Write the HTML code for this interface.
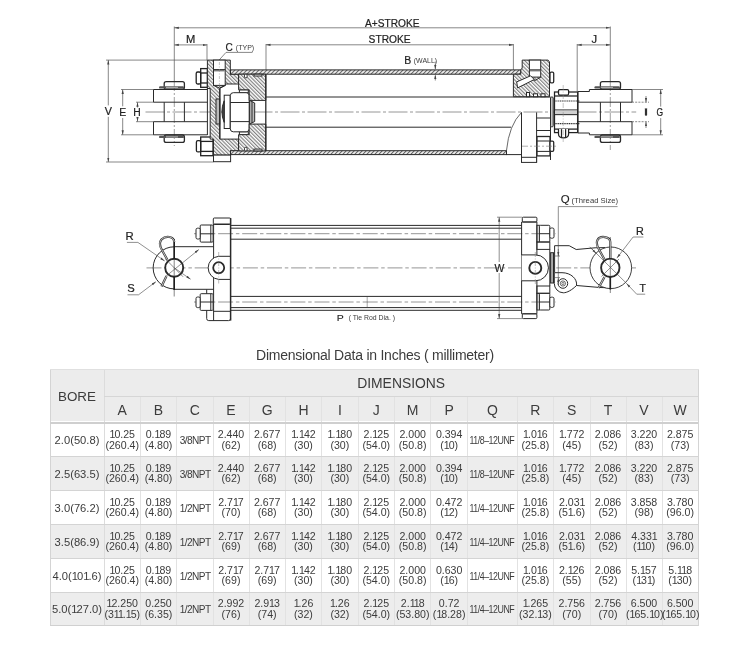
<!DOCTYPE html>
<html><head><meta charset="utf-8"><title>Dimensional Data</title>
<style>
html,body{margin:0;padding:0;background:#fff;}
body{width:750px;height:648px;position:relative;overflow:hidden;filter:grayscale(1);font-family:"Liberation Sans",sans-serif;color:#3c3c3c;}
.bg,.ln{position:absolute;}
.th,.td,.bore,.npt,.unf,.title{position:absolute;text-align:center;transform:translateY(-50%);white-space:nowrap;}
.th{font-size:13.4px;line-height:14px;}
.lt{position:absolute;text-align:center;transform:translateY(-50%);white-space:nowrap;font-size:14px;line-height:14px;}
.td{font-size:10.6px;line-height:10.6px;letter-spacing:0px;}
.o{letter-spacing:-1px;}
.dim{position:absolute;text-align:center;transform:translateY(-50%);white-space:nowrap;font-size:13.9px;line-height:14px;}
.bore{font-size:11.2px;line-height:12px;letter-spacing:0px;}
.npt{font-size:11.2px;line-height:12px;letter-spacing:-0.6px;}
.sx{display:inline-block;transform:scaleX(0.9);}
.unf{font-size:10.7px;line-height:12px;letter-spacing:-0.6px;}
.unf .sx{transform:scaleX(0.83);position:relative;left:-2.6px;}
.title{font-size:14px;line-height:16px;letter-spacing:-0.24px;}
svg{position:absolute;left:0;top:0;}
</style></head><body>
<svg width="750" height="340" viewBox="0 0 750 340" font-family="Liberation Sans, sans-serif" fill="#2a2a2a">
<defs>
<pattern id="hb" width="2.6" height="2.6" patternUnits="userSpaceOnUse" patternTransform="rotate(-45)"><rect width="2.6" height="2.6" fill="#fff"/><line x1="0.6" y1="0" x2="0.6" y2="2.6" stroke="#7a7a7a" stroke-width="1.1"/></pattern>
<pattern id="hf" width="2.83" height="2.83" patternUnits="userSpaceOnUse" patternTransform="rotate(45)"><rect width="2.83" height="2.83" fill="#fff"/><line x1="0.6" y1="0" x2="0.6" y2="2.83" stroke="#6a6a6a" stroke-width="1.2"/></pattern>
<marker id="ar" markerWidth="4.5" markerHeight="4" refX="4.5" refY="2" orient="auto" markerUnits="userSpaceOnUse"><path d="M0,0.9 L4.5,2 L0,3.1z" fill="#444"/></marker>
<marker id="al" markerWidth="4.5" markerHeight="4" refX="0" refY="2" orient="auto" markerUnits="userSpaceOnUse"><path d="M4.5,0.9 L0,2 L4.5,3.1z" fill="#444"/></marker>
</defs>
<g fill="none" stroke-linecap="butt">
<!-- ============ TOP VIEW ============ -->
<!-- dimension lines -->
<g stroke="#555" stroke-width="0.7">
<line x1="174.3" y1="27.8" x2="610.3" y2="27.8" marker-start="url(#al)" marker-end="url(#ar)"/>
<line x1="174.3" y1="44.9" x2="207" y2="44.9" marker-start="url(#al)" marker-end="url(#ar)"/>
<line x1="266" y1="44.8" x2="513.4" y2="44.8" marker-start="url(#al)" marker-end="url(#ar)"/>
<line x1="577.2" y1="44.9" x2="610.3" y2="44.9" marker-start="url(#al)" marker-end="url(#ar)"/>
<line x1="174.3" y1="26.5" x2="174.3" y2="81"/>
<line x1="610.3" y1="26.5" x2="610.3" y2="81"/>
<line x1="207" y1="44" x2="207" y2="60"/>
<line x1="266" y1="44" x2="266" y2="70"/>
<line x1="513.4" y1="44" x2="513.4" y2="74"/>
<line x1="577.2" y1="44" x2="577.2" y2="91.5"/>
<!-- V E H -->
<line x1="108.3" y1="105.4" x2="108.3" y2="60.1" marker-end="url(#ar)"/><line x1="108.3" y1="116.8" x2="108.3" y2="162" marker-end="url(#ar)"/>
<line x1="106" y1="60.1" x2="207.4" y2="60.1"/>
<line x1="106" y1="162" x2="213.3" y2="162"/>
<line x1="122.7" y1="106.3" x2="122.7" y2="89.5" marker-end="url(#ar)"/><line x1="122.7" y1="118" x2="122.7" y2="134.8" marker-end="url(#ar)"/>
<line x1="121" y1="89.5" x2="153.5" y2="89.5"/>
<line x1="121" y1="134.8" x2="153.5" y2="134.8"/>
<line x1="137.5" y1="107.5" x2="137.5" y2="102.3" marker-end="url(#ar)"/><line x1="137.5" y1="117" x2="137.5" y2="121.6" marker-end="url(#ar)"/>
<line x1="136" y1="102.2" x2="153.5" y2="102.2"/>
<line x1="136" y1="121.7" x2="153.5" y2="121.7"/>
<!-- G I -->
<line x1="660.7" y1="106.6" x2="660.7" y2="89.5" marker-end="url(#ar)"/><line x1="660.7" y1="118.1" x2="660.7" y2="134.8" marker-end="url(#ar)"/>
<line x1="632" y1="89.5" x2="663" y2="89.5"/>
<line x1="632" y1="134.8" x2="663" y2="134.8"/>
<line x1="646" y1="96" x2="646" y2="102.3" marker-end="url(#ar)"/><line x1="646" y1="128" x2="646" y2="121.9" marker-end="url(#ar)"/>
<line x1="632" y1="102.2" x2="649" y2="102.2" stroke-dasharray="2 1.2"/>
<line x1="632" y1="121.7" x2="649" y2="121.7" stroke-dasharray="2 1.2"/>
<!-- B wall tick -->
<line x1="435.3" y1="61.5" x2="435.3" y2="69.6" marker-end="url(#ar)" stroke-dasharray="2 0.8"/><line x1="435.3" y1="80.5" x2="435.3" y2="74.5" marker-end="url(#ar)" stroke-dasharray="2 0.8"/>
<!-- C typ leader -->
<polyline points="252.5,52.4 226,52.4 218.7,60.5"/>
</g>
<!-- centerlines -->
<line x1="145.5" y1="112" x2="636.2" y2="112" stroke="#8a8a8a" stroke-width="0.9" stroke-dasharray="19 2.5 3 2.5"/>
<g stroke="#777" stroke-width="0.7" stroke-dasharray="10 2 2 2">
<line x1="174.3" y1="81" x2="174.3" y2="146"/>
<line x1="610.3" y1="81" x2="610.3" y2="150"/>
</g>
<!-- left clevis -->
<g stroke="#2a2a2a" stroke-width="1">
<polyline points="207.4,89.5 153.5,89.5 153.5,102.2 207.4,102.2"/>
<polyline points="207.4,134.8 153.5,134.8 153.5,121.7 207.4,121.7"/>
<line x1="164.2" y1="102.2" x2="164.2" y2="121.7"/>
<line x1="184.4" y1="102.2" x2="184.4" y2="121.7"/>
<rect x="164.2" y="81.6" width="20.2" height="7.6" rx="2" stroke-width="1.3"/>
<rect x="164.2" y="135" width="20.2" height="7.4" rx="2" stroke-width="1.3"/>
<line x1="160" y1="87.5" x2="166" y2="87.5"/>
<line x1="160" y1="136.8" x2="166" y2="136.8"/>
</g>
<rect x="159" y="86.2" width="25" height="2.4" rx="1.2" fill="#555"/>
<rect x="159" y="135.7" width="25" height="2.4" rx="1.2" fill="#555"/><rect x="166" y="86.8" width="12" height="1.2" fill="#aaa"/><rect x="166" y="136.3" width="12" height="1.2" fill="#aaa"/>
<!-- left bolt nuts -->
<g stroke="#222" stroke-width="1.3">
<rect x="200.7" y="68.6" width="6.7" height="18.7"/>
<line x1="200.7" y1="73" x2="207.4" y2="73"/><line x1="200.7" y1="83" x2="207.4" y2="83"/>
<rect x="196.2" y="72" width="4.5" height="12" rx="1.5"/>
<rect x="200.7" y="137" width="12.3" height="18.7"/>
<line x1="200.7" y1="141.4" x2="213" y2="141.4"/><line x1="200.7" y1="151.4" x2="213" y2="151.4"/>
<rect x="196.4" y="140.7" width="4.3" height="11.2" rx="1.5"/>
</g>
<!-- cap section (hatched) -->
<g stroke="#2a2a2a" stroke-width="1">
<path d="M207.4,60.1 H230.3 V74.2 H238.5 V84 H225.2 V85.4 L219.7,88.5 V139.1 H238.5 V150.9 H230.6 V155.1 H213.5 V139.1 H210.2 V88.5 H207.4 Z" fill="url(#hb)"/>
<rect x="213.5" y="60.1" width="11.7" height="25.3" fill="#fff"/>
<path d="M213.5,85.4 L219.4,88 L225.2,85.4" />
<line x1="213.5" y1="69.5" x2="225.2" y2="69.5"/>
<rect x="213.5" y="155.1" width="17.1" height="6.6" fill="#fff"/>
<line x1="207.4" y1="88" x2="207.4" y2="135"/>
<rect x="216" y="99" width="3.7" height="25" fill="#bbb"/>
<line x1="219.9" y1="88.5" x2="219.9" y2="139.1" stroke-width="1.2"/>
</g>
<rect x="214" y="69.8" width="10.7" height="1.6" fill="#777"/>
<line x1="219.4" y1="62" x2="219.4" y2="86" stroke="#888" stroke-width="0.5" stroke-dasharray="3 1.5 1 1.5"/>
<!-- tube walls -->
<g stroke="#2a2a2a" stroke-width="1">
<rect x="230.5" y="69.9" width="290.3" height="4.3" fill="url(#hf)"/>
<rect x="230.5" y="150.7" width="276" height="3.9" fill="url(#hf)"/>
<line x1="506.5" y1="154.6" x2="521.5" y2="154.6"/>
</g>
<!-- spacer and nut -->
<g stroke="#2a2a2a" stroke-width="1">
<rect x="224.2" y="95.2" width="6" height="33.3" fill="#fff"/>
<path d="M224.2,100.8 Q219.6,111.6 224.2,122.4 Z" fill="#444"/>
<rect x="239.4" y="89.8" width="8.9" height="2.9" fill="#fff"/>
<rect x="239.4" y="131.8" width="8.9" height="2.9" fill="#fff"/>
<rect x="230.3" y="92.7" width="18.9" height="39.1" rx="3" fill="#fff"/>
<line x1="230.3" y1="102.5" x2="249.2" y2="102.5"/>
<line x1="230.3" y1="121.6" x2="249.2" y2="121.6"/>
</g>
<!-- piston -->
<g stroke="#2a2a2a" stroke-width="1">
<path d="M238.6,74.2 H265.8 V100.4 H249.2 V89.8 H238.6 Z" fill="url(#hb)"/>
<path d="M238.6,150.9 H265.8 V124.1 H249.2 V134.7 H238.6 Z" fill="url(#hb)"/>
<rect x="244.5" y="74.2" width="2.6" height="3.6" rx="1" fill="#fff"/>
<rect x="254" y="74.2" width="8" height="1.8" fill="#fff"/>
<rect x="244.5" y="147.3" width="2.6" height="3.6" rx="1" fill="#fff"/>
<rect x="254" y="149.1" width="8" height="1.8" fill="#fff"/>
<path d="M249.6,100.4 L254.7,103 V121.5 L249.6,124.1 Z" fill="#bbb"/>
<line x1="252" y1="101.5" x2="252" y2="123"/>
<line x1="265.8" y1="74.2" x2="265.8" y2="150.9" stroke-width="1.3"/>
</g>
<!-- rod -->
<g stroke="#2a2a2a" stroke-width="1">
<line x1="265.8" y1="97" x2="550.5" y2="97"/>
<line x1="265.8" y1="127.2" x2="511.1" y2="127.2"/>
</g>
<!-- head (rod end) -->
<g stroke="#2a2a2a" stroke-width="1">
<path d="M513.4,74.2 H520.8 V69.9 L522.2,68 V60.1 H548.1 L549.5,62 V96.7 H513.4 Z" fill="url(#hb)"/>
<rect x="529.4" y="60.1" width="11.3" height="17" fill="#fff"/>
<path d="M529.4,77.1 L535,80.5 L540.7,77.1"/>
<line x1="529.4" y1="69.8" x2="540.7" y2="69.8"/><rect x="529.9" y="69.6" width="10.3" height="1.8" fill="#777" stroke="none"/>
<path d="M516.7,81.9 L530.6,75.8 L534.3,79.5 L517.6,87.9 Z" fill="#fff"/>
<rect x="526.5" y="92.5" width="3" height="4.2" fill="#fff"/><rect x="533.5" y="93.8" width="4" height="2.9" fill="#fff"/><rect x="541" y="93.8" width="4" height="2.9" fill="#fff"/>
<rect x="550" y="72.1" width="3.7" height="10.7" rx="1.2" fill="#fff" stroke-width="1.3"/>
<!-- lower head exterior -->
<line x1="521.5" y1="112.4" x2="521.5" y2="162.4"/>
<line x1="536.6" y1="112.4" x2="536.6" y2="162.4"/>
<rect x="521.5" y="157.3" width="15.1" height="5.1" fill="#fff"/>
<path d="M506.5,150.4 Q509,125 521.5,112.4" stroke-width="0.7"/>
<line x1="536.6" y1="118" x2="550.5" y2="118"/>
<line x1="536.6" y1="130.5" x2="550.5" y2="130.5"/>
<line x1="550.5" y1="112" x2="550.5" y2="160"/>
<rect x="537" y="136.5" width="13" height="19.4" fill="#fff" stroke-width="1.3"/>
<line x1="537" y1="141" x2="550" y2="141"/><line x1="537" y1="151.4" x2="550" y2="151.4"/>
<rect x="550" y="141.1" width="3.7" height="10.2" rx="1.2" fill="#fff" stroke-width="1.3"/>
<rect x="550.5" y="97" width="2.7" height="29.8" rx="1" fill="#c8c8c8"/>
</g>
<line x1="522" y1="146.2" x2="556" y2="146.2" stroke="#777" stroke-width="0.6" stroke-dasharray="6 2 2 2"/>
<!-- rod end threaded piece -->
<g stroke="#222" stroke-width="1.25">
<rect x="554.5" y="92" width="23.1" height="40.6" fill="#fff"/>
<line x1="554.5" y1="96" x2="577.6" y2="96"/>
<line x1="554.5" y1="129.1" x2="577.6" y2="129.1"/>
<rect x="558.5" y="89.5" width="10.1" height="5.5" rx="1.2" fill="#fff"/>
<path d="M558.5,129.1 V134 Q558.5,137.8 563.5,137.8 Q568.6,137.8 568.6,134 V129.1" fill="#fff"/>
<line x1="561.5" y1="129.1" x2="561.5" y2="137"/><line x1="565.6" y1="129.1" x2="565.6" y2="137"/>
<line x1="554.5" y1="110" x2="577.6" y2="110" stroke-width="1.1"/>
<line x1="554.5" y1="114.6" x2="577.6" y2="114.6" stroke-width="1.1"/>
</g>
<rect x="555" y="110.5" width="22" height="3.6" fill="#d0d0d0"/>
<g stroke="#333" stroke-width="1.1" stroke-dasharray="1.2 0.6">
<line x1="554.5" y1="101" x2="580" y2="101"/>
<line x1="554.5" y1="123.6" x2="580" y2="123.6"/>
</g>
<line x1="563.2" y1="85" x2="563.2" y2="142" stroke="#888" stroke-width="0.5" stroke-dasharray="5 1.5 1 1.5"/>
<!-- right clevis -->
<g stroke="#2a2a2a" stroke-width="1">
<polyline points="578,91.5 589.4,91.5 589.4,89.5 632,89.5 632,102.2 578,102.2"/>
<polyline points="578,133 589.4,133 589.4,134.8 632,134.8 632,121.7 578,121.7"/>
<line x1="578" y1="91.5" x2="578" y2="133"/>
<line x1="600.4" y1="102.2" x2="600.4" y2="121.7"/>
<line x1="620.5" y1="102.2" x2="620.5" y2="121.7"/>
<rect x="600.4" y="81.6" width="20.1" height="7.6" rx="2" stroke-width="1.3"/>
<rect x="600.4" y="135" width="20.1" height="7.4" rx="2" stroke-width="1.3"/>
<line x1="595" y1="87.5" x2="601" y2="87.5"/>
<line x1="595" y1="136.8" x2="601" y2="136.8"/>
</g>
<rect x="594.4" y="86.2" width="25.5" height="2.4" rx="1.2" fill="#555"/>
<rect x="594.4" y="135.7" width="25.5" height="2.4" rx="1.2" fill="#555"/><rect x="601" y="86.8" width="12" height="1.2" fill="#aaa"/><rect x="601" y="136.3" width="12" height="1.2" fill="#aaa"/>
</g>
<!-- labels top -->
<g fill="#222" font-size="10" stroke="#222" stroke-width="0.2">
<text x="365" y="26.5" textLength="54.5" lengthAdjust="spacingAndGlyphs">A+STROKE</text>
<text x="368.6" y="43" textLength="42" lengthAdjust="spacingAndGlyphs">STROKE</text>
<text x="186.1" y="43.2" font-size="10.4" textLength="9.3" lengthAdjust="spacingAndGlyphs">M</text>
<text x="591.6" y="43" font-size="10.2" textLength="5.6" lengthAdjust="spacingAndGlyphs">J</text>
<text x="225.5" y="50.8" textLength="7.3" lengthAdjust="spacingAndGlyphs">C</text>
<text x="235.8" y="50.3" font-size="6.6" textLength="18.4" lengthAdjust="spacingAndGlyphs" stroke="none" fill="#3a3a3a">(TYP)</text>
<text x="404.3" y="63.8" textLength="7" lengthAdjust="spacingAndGlyphs">B</text>
<text x="413.8" y="63.3" font-size="6.4" textLength="23.3" lengthAdjust="spacingAndGlyphs" stroke="none" fill="#3a3a3a">(WALL)</text>
<text x="104.8" y="114.7" font-size="10.3" textLength="7.2" lengthAdjust="spacingAndGlyphs">V</text>
<text x="119.3" y="116" font-size="10.5" textLength="7" lengthAdjust="spacingAndGlyphs">E</text>
<text x="133.3" y="116" font-size="10" textLength="7.5" lengthAdjust="spacingAndGlyphs">H</text>
<text x="656.6" y="116" font-size="10" textLength="6.6" lengthAdjust="spacingAndGlyphs">G</text>
<rect x="645" y="108.6" width="2" height="6.9" fill="#333"/>
</g>
<!-- ============ BOTTOM VIEW ============ -->
<g fill="none">
<!-- centerlines -->
<g stroke="#8a8a8a" stroke-width="0.9" stroke-dasharray="15 2.8 3.5 2.8">
<line x1="146.5" y1="267.9" x2="636" y2="267.9"/>
<line x1="194" y1="233.7" x2="556" y2="233.7"/>
<line x1="194" y1="302" x2="556" y2="302"/>
</g>
<!-- tie rods -->
<g stroke="#2a2a2a" stroke-width="1">
<line x1="230.6" y1="225.4" x2="521.6" y2="225.4"/>
<line x1="230.6" y1="228.2" x2="521.6" y2="228.2"/>
<line x1="230.6" y1="239.2" x2="521.6" y2="239.2"/>
<line x1="230.6" y1="296.4" x2="521.6" y2="296.4"/>
<line x1="230.6" y1="307.6" x2="521.6" y2="307.6"/>
<line x1="230.6" y1="310.3" x2="521.6" y2="310.3"/>
</g>
<line x1="367.2" y1="296.4" x2="367.2" y2="307.6" stroke="#444" stroke-width="0.8" stroke-dasharray="1.2 0.8"/>
<!-- left cap -->
<g stroke="#2a2a2a" stroke-width="1">
<rect x="213.3" y="218" width="17.3" height="6.5" rx="1"/>
<path d="M206.7,289.5 V318.6 Q206.7,320.6 208.7,320.6 H228.6 Q230.6,320.6 230.6,318.6"/>
<line x1="213.6" y1="224" x2="213.6" y2="320.6"/>
<line x1="213.6" y1="224" x2="230.6" y2="224"/>
<line x1="213.6" y1="311.3" x2="230.6" y2="311.3"/>
<path d="M230.6,256.3 H218.7 A11.6,11.6 0 0 0 218.7,279.4 H230.6" fill="#fff"/>
<circle cx="218.7" cy="267.7" r="5.5" stroke-width="1.8"/>
<line x1="230.6" y1="218" x2="230.6" y2="320.6" stroke-width="1.5"/>
<line x1="218.7" y1="252" x2="218.7" y2="283.5" stroke="#777" stroke-width="0.5" stroke-dasharray="5 1.5 1 1.5"/>
<!-- nuts -->
<rect x="200.2" y="225" width="12.9" height="17.1" rx="1" fill="#fff"/>
<line x1="210.8" y1="225" x2="210.8" y2="242.1"/>
<rect x="196" y="228.2" width="4.2" height="10.8" rx="1.5" fill="#fff"/>
<rect x="200.2" y="293.7" width="12.9" height="16.7" rx="1" fill="#fff"/>
<line x1="210.8" y1="293.7" x2="210.8" y2="310.4"/>
<rect x="196" y="297" width="4.2" height="10.6" rx="1.5" fill="#fff"/>
<line x1="200.2" y1="233.8" x2="213.1" y2="233.8"/>
<line x1="200.2" y1="302" x2="213.1" y2="302"/>
<!-- left clevis top view -->
<line x1="174.2" y1="246.7" x2="213.6" y2="246.7"/>
<line x1="174.2" y1="289.3" x2="213.6" y2="289.3"/>
<path d="M174.2,246.8 A21,21 0 0 0 174.2,288.9"/>
<circle cx="174.2" cy="267.8" r="9" stroke-width="1.9" fill="#fff"/>
</g>
<g stroke="#111" stroke-width="1.6">
<line x1="174.2" y1="239.5" x2="174.2" y2="258.8"/>
<line x1="174.2" y1="276.8" x2="174.2" y2="290"/>
</g>
<line x1="174.2" y1="239" x2="174.2" y2="296.5" stroke="#333" stroke-width="0.6"/>
<g stroke="#444" stroke-width="0.6">
<line x1="165.3" y1="258.8" x2="183.1" y2="276.8"/>
<line x1="165.3" y1="276.8" x2="198.8" y2="249.6" marker-end="url(#ar)"/>
<line x1="174.2" y1="267.8" x2="190.6" y2="279.3" marker-end="url(#ar)"/>
<polyline points="126.9,242.4 137.9,242.4 164.6,260.9" marker-end="url(#ar)"/>
<polyline points="127.5,294.8 138.5,294.8 155.9,281.7" marker-end="url(#ar)"/>
</g>
<!-- cotter pin left -->
<g stroke="#333" stroke-width="2.2" fill="none"><path d="M174.2,242 C174,236.5 166,235 161.5,239.5 C158.5,243 160,247 162.5,251 L167.5,260 M166.5,276 L161.5,286.5"/></g>
<g stroke="#fff" stroke-width="0.7" fill="none"><path d="M174.2,242 C174,236.5 166,235 161.5,239.5 C158.5,243 160,247 162.5,251 L167.5,260 M166.5,276 L161.5,286.5"/></g>
<!-- right head -->
<g stroke="#2a2a2a" stroke-width="1">
<rect x="522.3" y="217.2" width="14.6" height="4.8" rx="1"/>
<rect x="522.3" y="313.8" width="14.6" height="4.8" rx="1"/>
<line x1="521.6" y1="222" x2="521.6" y2="313.8"/>
<line x1="536.9" y1="222" x2="536.9" y2="313.8"/>
<line x1="521.6" y1="222" x2="536.9" y2="222"/>
<line x1="521.6" y1="313.8" x2="536.9" y2="313.8"/>
<path d="M521.6,254.9 H535.5 A12.5,12.5 0 0 1 535.5,280.8 H521.6" fill="#fff"/>
<circle cx="535.3" cy="267.9" r="6" stroke-width="1.9"/>
<line x1="535.3" y1="252" x2="535.3" y2="284" stroke="#777" stroke-width="0.5" stroke-dasharray="5 1.5 1 1.5"/>
<rect x="536.9" y="225.3" width="2.5" height="16.7"/>
<rect x="539.4" y="225.3" width="10.4" height="16.7" rx="1" fill="#fff"/>
<rect x="549.8" y="228" width="4.2" height="10.2" rx="1.5" fill="#fff"/>
<line x1="539.4" y1="233.7" x2="549.8" y2="233.7"/>
<rect x="536.9" y="242" width="12.9" height="7.4"/>
<rect x="536.9" y="293.3" width="2.5" height="16.7"/>
<rect x="539.4" y="293.3" width="10.4" height="16.7" rx="1" fill="#fff"/>
<rect x="549.8" y="297.2" width="4.2" height="10.2" rx="1.5" fill="#fff"/>
<line x1="539.4" y1="302" x2="549.8" y2="302"/>
<rect x="536.9" y="286" width="12.9" height="7.3"/>
<line x1="549.8" y1="249.4" x2="549.8" y2="286"/>
<rect x="550.6" y="252.7" width="2.9" height="30.3" fill="#aaa"/>
</g>
<!-- rod end top view -->
<g stroke="#2a2a2a" stroke-width="1">
<path d="M554.6,272.7 V245.7 H569.2 L576.2,249.5 L595.1,247.8 L605,247.6"/>
<path d="M554.6,272.7 H562 C571,272.7 577.5,279 576.5,285.5 L600,287.5 L610,287.8"/>
<path d="M576.5,285.5 C572,290 567,292.8 563.3,292.8 A9.3,9.3 0 0 1 554.3,283.5 V272.7"/>
<circle cx="610.8" cy="267.8" r="20.8" fill="#fff" stroke-width="0.9"/>
<circle cx="610.3" cy="267.8" r="9.2" stroke-width="1.9"/>
<circle cx="562.9" cy="283.5" r="4.8"/>
<circle cx="562.9" cy="283.5" r="2.6" stroke-width="0.7"/>
<circle cx="562.9" cy="283.5" r="1.1" stroke-width="0.6"/>
</g>
<g stroke="#111" stroke-width="1.6">
<line x1="610.3" y1="246" x2="610.3" y2="258.6"/>
<line x1="610.3" y1="277" x2="610.3" y2="289.5"/>
</g>
<line x1="610.3" y1="237" x2="610.3" y2="293" stroke="#333" stroke-width="0.6"/>
<g stroke="#444" stroke-width="0.6">
<line x1="590.8" y1="247.8" x2="626.5" y2="283.4"/>
<line x1="601.5" y1="276.5" x2="619" y2="259"/>
<line x1="589.6" y1="246.8" x2="596.3" y2="253.5" marker-end="url(#ar)"/>
<polyline points="643.4,237 633.1,237 616.9,258.1" marker-end="url(#ar)"/>
<polyline points="645.2,294.2 636.7,294.2 626.5,283.4" marker-end="url(#ar)"/>
<!-- Q ext -->
<polyline points="617.6,206.6 558.3,206.6 558.3,277.6"/>
<line x1="558.3" y1="249" x2="558.3" y2="256" marker-end="url(#ar)"/>
<line x1="558.3" y1="285" x2="558.3" y2="277.6" marker-end="url(#ar)"/>
<line x1="553.5" y1="256" x2="560" y2="256"/>
<line x1="553.5" y1="277.6" x2="560" y2="277.6"/>
<!-- W -->
<line x1="499.2" y1="262" x2="499.2" y2="217.2" marker-end="url(#ar)"/>
<line x1="499.2" y1="273" x2="499.2" y2="318.6" marker-end="url(#ar)"/>
<line x1="497" y1="217.2" x2="522.3" y2="217.2"/>
<line x1="497" y1="318.6" x2="522.3" y2="318.6"/>
</g>
<!-- cotter pin right -->
<g stroke="#333" stroke-width="2.2" fill="none"><path d="M610.3,258 V242 C610.3,236.5 600,235 597.5,240 C596,243 597,246 599,249.5 L604.5,259.5 M604.5,277 L598.5,288"/></g>
<g stroke="#fff" stroke-width="0.7" fill="none"><path d="M610.3,258 V242 C610.3,236.5 600,235 597.5,240 C596,243 597,246 599,249.5 L604.5,259.5 M604.5,277 L598.5,288"/></g>
</g>
<g fill="#222" font-size="10" stroke="#222" stroke-width="0.2">
<text x="125.6" y="240" font-size="10.3" textLength="8.2" lengthAdjust="spacingAndGlyphs">R</text>
<text x="127.2" y="292.2" font-size="10.4" textLength="7.5" lengthAdjust="spacingAndGlyphs">S</text>
<text x="636" y="234.9" font-size="10" textLength="7.8" lengthAdjust="spacingAndGlyphs">R</text>
<text x="639.4" y="291.7" font-size="10" textLength="6.4" lengthAdjust="spacingAndGlyphs">T</text>
<text x="494.6" y="271.7" font-size="11" textLength="9.8" lengthAdjust="spacingAndGlyphs">W</text>
<text x="560.8" y="202.9" font-size="10" textLength="8.9" lengthAdjust="spacingAndGlyphs" stroke-width="0.1">Q</text>
<text x="571.5" y="202.6" font-size="8" textLength="46.6" lengthAdjust="spacingAndGlyphs" stroke="none" fill="#3a3a3a">(Thread Size)</text>
<text x="336.7" y="320.5" font-size="9.2" textLength="7" lengthAdjust="spacingAndGlyphs" stroke-width="0.1">P</text>
<text x="348.8" y="319.8" font-size="6.8" textLength="46.2" lengthAdjust="spacingAndGlyphs" stroke="none" fill="#3a3a3a">( Tie Rod Dia. )</text>
</g>
</svg>

<div class="title" style="left:0;width:750px;top:355.1px">Dimensional Data in Inches ( millimeter)</div>
<div class="bg" style="left:50px;top:369px;width:648.3px;height:51.7px;background:#ececec"></div>
<div class="bg" style="left:50px;top:456px;width:648.3px;height:34px;background:#ededed"></div>
<div class="bg" style="left:50px;top:524px;width:648.3px;height:34px;background:#ededed"></div>
<div class="bg" style="left:50px;top:592px;width:648.3px;height:33.5px;background:#ededed"></div>
<div class="ln" style="left:50px;top:369px;width:1px;height:257px;background:#d4d4d4"></div>
<div class="ln" style="left:698px;top:369px;width:1px;height:257px;background:#d4d4d4"></div>
<div class="ln" style="left:103.5px;top:369px;width:1px;height:257px;background:#dcdcdc"></div>
<div class="ln" style="left:140.0px;top:396px;width:1px;height:230px;background:#e2e2e2"></div>
<div class="ln" style="left:176.0px;top:396px;width:1px;height:230px;background:#e2e2e2"></div>
<div class="ln" style="left:212.5px;top:396px;width:1px;height:230px;background:#e2e2e2"></div>
<div class="ln" style="left:248.5px;top:396px;width:1px;height:230px;background:#e2e2e2"></div>
<div class="ln" style="left:284.8px;top:396px;width:1px;height:230px;background:#e2e2e2"></div>
<div class="ln" style="left:321.2px;top:396px;width:1px;height:230px;background:#e2e2e2"></div>
<div class="ln" style="left:357.5px;top:396px;width:1px;height:230px;background:#e2e2e2"></div>
<div class="ln" style="left:394.1px;top:396px;width:1px;height:230px;background:#e2e2e2"></div>
<div class="ln" style="left:430.3px;top:396px;width:1px;height:230px;background:#e2e2e2"></div>
<div class="ln" style="left:467.0px;top:396px;width:1px;height:230px;background:#e2e2e2"></div>
<div class="ln" style="left:516.8px;top:396px;width:1px;height:230px;background:#e2e2e2"></div>
<div class="ln" style="left:553.0px;top:396px;width:1px;height:230px;background:#e2e2e2"></div>
<div class="ln" style="left:589.5px;top:396px;width:1px;height:230px;background:#e2e2e2"></div>
<div class="ln" style="left:625.5px;top:396px;width:1px;height:230px;background:#e2e2e2"></div>
<div class="ln" style="left:661.5px;top:396px;width:1px;height:230px;background:#e2e2e2"></div>
<div class="ln" style="left:50px;top:369px;width:649.0px;height:1px;background:#e0e0e0"></div>
<div class="ln" style="left:104px;top:396px;width:594.3px;height:1px;background:#d6d6d6"></div>
<div class="ln" style="left:50px;top:422px;width:648.3px;height:1.6px;background:#cfcfcf"></div>
<div class="ln" style="left:50px;top:456px;width:648.3px;height:1px;background:#d4d4d4"></div>
<div class="ln" style="left:50px;top:490px;width:648.3px;height:1px;background:#d4d4d4"></div>
<div class="ln" style="left:50px;top:524px;width:648.3px;height:1px;background:#d4d4d4"></div>
<div class="ln" style="left:50px;top:558px;width:648.3px;height:1px;background:#d4d4d4"></div>
<div class="ln" style="left:50px;top:592px;width:648.3px;height:1px;background:#d4d4d4"></div>
<div class="ln" style="left:50px;top:625px;width:648.3px;height:1px;background:#d0d0d0"></div>
<div class="th" style="left:50px;width:54px;top:396.8px">BORE</div>
<div class="dim" style="left:104px;width:594.3px;top:382.8px">DIMENSIONS</div>
<div class="lt" style="left:104px;width:36.5px;top:409.8px">A</div>
<div class="lt" style="left:140.5px;width:36.0px;top:409.8px">B</div>
<div class="lt" style="left:176.5px;width:36.5px;top:409.8px">C</div>
<div class="lt" style="left:213px;width:36px;top:409.8px">E</div>
<div class="lt" style="left:249px;width:36.30000000000001px;top:409.8px">G</div>
<div class="lt" style="left:285.3px;width:36.39999999999998px;top:409.8px">H</div>
<div class="lt" style="left:321.7px;width:36.30000000000001px;top:409.8px">I</div>
<div class="lt" style="left:358px;width:36.60000000000002px;top:409.8px">J</div>
<div class="lt" style="left:394.6px;width:36.19999999999999px;top:409.8px">M</div>
<div class="lt" style="left:430.8px;width:36.69999999999999px;top:409.8px">P</div>
<div class="lt" style="left:467.5px;width:49.799999999999955px;top:409.8px">Q</div>
<div class="lt" style="left:517.3px;width:36.200000000000045px;top:409.8px">R</div>
<div class="lt" style="left:553.5px;width:36.5px;top:409.8px">S</div>
<div class="lt" style="left:590px;width:36px;top:409.8px">T</div>
<div class="lt" style="left:626px;width:36px;top:409.8px">V</div>
<div class="lt" style="left:662px;width:36.299999999999955px;top:409.8px">W</div>
<div class="bore" style="left:50px;width:54px;top:440.0px">2.0(50.8)</div>
<div class="td" style="left:104px;width:36.5px;top:440.0px"><span class="o">1</span>0.25<br>(260.4)</div>
<div class="td" style="left:140.5px;width:36.0px;top:440.0px">0.<span class="o">1</span>89<br>(4.80)</div>
<div class="npt" style="left:176.5px;width:36.5px;top:440.0px"><span class="sx">3/8NPT</span></div>
<div class="td" style="left:213px;width:36px;top:440.0px">2.440<br>(62)</div>
<div class="td" style="left:249px;width:36.30000000000001px;top:440.0px">2.677<br>(68)</div>
<div class="td" style="left:285.3px;width:36.39999999999998px;top:440.0px"><span class="o">1</span>.<span class="o">1</span>42<br>(30)</div>
<div class="td" style="left:321.7px;width:36.30000000000001px;top:440.0px"><span class="o">1</span>.<span class="o">1</span>80<br>(30)</div>
<div class="td" style="left:358px;width:36.60000000000002px;top:440.0px">2.<span class="o">1</span>25<br>(54.0)</div>
<div class="td" style="left:394.6px;width:36.19999999999999px;top:440.0px">2.000<br>(50.8)</div>
<div class="td" style="left:430.8px;width:36.69999999999999px;top:440.0px">0.394<br>(<span class="o">1</span>0)</div>
<div class="unf" style="left:467.5px;width:49.799999999999955px;top:440.0px"><span class="sx">11/8&#8211;12UNF</span></div>
<div class="td" style="left:517.3px;width:36.200000000000045px;top:440.0px"><span class="o">1</span>.0<span class="o">1</span>6<br>(25.8)</div>
<div class="td" style="left:553.5px;width:36.5px;top:440.0px"><span class="o">1</span>.772<br>(45)</div>
<div class="td" style="left:590px;width:36px;top:440.0px">2.086<br>(52)</div>
<div class="td" style="left:626px;width:36px;top:440.0px">3.220<br>(83)</div>
<div class="td" style="left:662px;width:36.299999999999955px;top:440.0px">2.875<br>(73)</div>
<div class="bore" style="left:50px;width:54px;top:473.5px">2.5(63.5)</div>
<div class="td" style="left:104px;width:36.5px;top:473.5px"><span class="o">1</span>0.25<br>(260.4)</div>
<div class="td" style="left:140.5px;width:36.0px;top:473.5px">0.<span class="o">1</span>89<br>(4.80)</div>
<div class="npt" style="left:176.5px;width:36.5px;top:473.5px"><span class="sx">3/8NPT</span></div>
<div class="td" style="left:213px;width:36px;top:473.5px">2.440<br>(62)</div>
<div class="td" style="left:249px;width:36.30000000000001px;top:473.5px">2.677<br>(68)</div>
<div class="td" style="left:285.3px;width:36.39999999999998px;top:473.5px"><span class="o">1</span>.<span class="o">1</span>42<br>(30)</div>
<div class="td" style="left:321.7px;width:36.30000000000001px;top:473.5px"><span class="o">1</span>.<span class="o">1</span>80<br>(30)</div>
<div class="td" style="left:358px;width:36.60000000000002px;top:473.5px">2.<span class="o">1</span>25<br>(54.0)</div>
<div class="td" style="left:394.6px;width:36.19999999999999px;top:473.5px">2.000<br>(50.8)</div>
<div class="td" style="left:430.8px;width:36.69999999999999px;top:473.5px">0.394<br>(<span class="o">1</span>0)</div>
<div class="unf" style="left:467.5px;width:49.799999999999955px;top:473.5px"><span class="sx">11/8&#8211;12UNF</span></div>
<div class="td" style="left:517.3px;width:36.200000000000045px;top:473.5px"><span class="o">1</span>.0<span class="o">1</span>6<br>(25.8)</div>
<div class="td" style="left:553.5px;width:36.5px;top:473.5px"><span class="o">1</span>.772<br>(45)</div>
<div class="td" style="left:590px;width:36px;top:473.5px">2.086<br>(52)</div>
<div class="td" style="left:626px;width:36px;top:473.5px">3.220<br>(83)</div>
<div class="td" style="left:662px;width:36.299999999999955px;top:473.5px">2.875<br>(73)</div>
<div class="bore" style="left:50px;width:54px;top:507.5px">3.0(76.2)</div>
<div class="td" style="left:104px;width:36.5px;top:507.5px"><span class="o">1</span>0.25<br>(260.4)</div>
<div class="td" style="left:140.5px;width:36.0px;top:507.5px">0.<span class="o">1</span>89<br>(4.80)</div>
<div class="npt" style="left:176.5px;width:36.5px;top:507.5px"><span class="sx">1/2NPT</span></div>
<div class="td" style="left:213px;width:36px;top:507.5px">2.7<span class="o">1</span>7<br>(70)</div>
<div class="td" style="left:249px;width:36.30000000000001px;top:507.5px">2.677<br>(68)</div>
<div class="td" style="left:285.3px;width:36.39999999999998px;top:507.5px"><span class="o">1</span>.<span class="o">1</span>42<br>(30)</div>
<div class="td" style="left:321.7px;width:36.30000000000001px;top:507.5px"><span class="o">1</span>.<span class="o">1</span>80<br>(30)</div>
<div class="td" style="left:358px;width:36.60000000000002px;top:507.5px">2.<span class="o">1</span>25<br>(54.0)</div>
<div class="td" style="left:394.6px;width:36.19999999999999px;top:507.5px">2.000<br>(50.8)</div>
<div class="td" style="left:430.8px;width:36.69999999999999px;top:507.5px">0.472<br>(<span class="o">1</span>2)</div>
<div class="unf" style="left:467.5px;width:49.799999999999955px;top:507.5px"><span class="sx">11/4&#8211;12UNF</span></div>
<div class="td" style="left:517.3px;width:36.200000000000045px;top:507.5px"><span class="o">1</span>.0<span class="o">1</span>6<br>(25.8)</div>
<div class="td" style="left:553.5px;width:36.5px;top:507.5px">2.03<span class="o">1</span><br>(5<span class="o">1</span>.6)</div>
<div class="td" style="left:590px;width:36px;top:507.5px">2.086<br>(52)</div>
<div class="td" style="left:626px;width:36px;top:507.5px">3.858<br>(98)</div>
<div class="td" style="left:662px;width:36.299999999999955px;top:507.5px">3.780<br>(96.0)</div>
<div class="bore" style="left:50px;width:54px;top:541.5px">3.5(86.9)</div>
<div class="td" style="left:104px;width:36.5px;top:541.5px"><span class="o">1</span>0.25<br>(260.4)</div>
<div class="td" style="left:140.5px;width:36.0px;top:541.5px">0.<span class="o">1</span>89<br>(4.80)</div>
<div class="npt" style="left:176.5px;width:36.5px;top:541.5px"><span class="sx">1/2NPT</span></div>
<div class="td" style="left:213px;width:36px;top:541.5px">2.7<span class="o">1</span>7<br>(69)</div>
<div class="td" style="left:249px;width:36.30000000000001px;top:541.5px">2.677<br>(68)</div>
<div class="td" style="left:285.3px;width:36.39999999999998px;top:541.5px"><span class="o">1</span>.<span class="o">1</span>42<br>(30)</div>
<div class="td" style="left:321.7px;width:36.30000000000001px;top:541.5px"><span class="o">1</span>.<span class="o">1</span>80<br>(30)</div>
<div class="td" style="left:358px;width:36.60000000000002px;top:541.5px">2.<span class="o">1</span>25<br>(54.0)</div>
<div class="td" style="left:394.6px;width:36.19999999999999px;top:541.5px">2.000<br>(50.8)</div>
<div class="td" style="left:430.8px;width:36.69999999999999px;top:541.5px">0.472<br>(<span class="o">1</span>4)</div>
<div class="unf" style="left:467.5px;width:49.799999999999955px;top:541.5px"><span class="sx">11/4&#8211;12UNF</span></div>
<div class="td" style="left:517.3px;width:36.200000000000045px;top:541.5px"><span class="o">1</span>.0<span class="o">1</span>6<br>(25.8)</div>
<div class="td" style="left:553.5px;width:36.5px;top:541.5px">2.03<span class="o">1</span><br>(5<span class="o">1</span>.6)</div>
<div class="td" style="left:590px;width:36px;top:541.5px">2.086<br>(52)</div>
<div class="td" style="left:626px;width:36px;top:541.5px">4.33<span class="o">1</span><br>(<span class="o">1</span><span class="o">1</span>0)</div>
<div class="td" style="left:662px;width:36.299999999999955px;top:541.5px">3.780<br>(96.0)</div>
<div class="bore" style="left:50px;width:54px;top:575.5px">4.0(<span class="o">1</span>0<span class="o">1</span>.6)</div>
<div class="td" style="left:104px;width:36.5px;top:575.5px"><span class="o">1</span>0.25<br>(260.4)</div>
<div class="td" style="left:140.5px;width:36.0px;top:575.5px">0.<span class="o">1</span>89<br>(4.80)</div>
<div class="npt" style="left:176.5px;width:36.5px;top:575.5px"><span class="sx">1/2NPT</span></div>
<div class="td" style="left:213px;width:36px;top:575.5px">2.7<span class="o">1</span>7<br>(69)</div>
<div class="td" style="left:249px;width:36.30000000000001px;top:575.5px">2.7<span class="o">1</span>7<br>(69)</div>
<div class="td" style="left:285.3px;width:36.39999999999998px;top:575.5px"><span class="o">1</span>.<span class="o">1</span>42<br>(30)</div>
<div class="td" style="left:321.7px;width:36.30000000000001px;top:575.5px"><span class="o">1</span>.<span class="o">1</span>80<br>(30)</div>
<div class="td" style="left:358px;width:36.60000000000002px;top:575.5px">2.<span class="o">1</span>25<br>(54.0)</div>
<div class="td" style="left:394.6px;width:36.19999999999999px;top:575.5px">2.000<br>(50.8)</div>
<div class="td" style="left:430.8px;width:36.69999999999999px;top:575.5px">0.630<br>(<span class="o">1</span>6)</div>
<div class="unf" style="left:467.5px;width:49.799999999999955px;top:575.5px"><span class="sx">11/4&#8211;12UNF</span></div>
<div class="td" style="left:517.3px;width:36.200000000000045px;top:575.5px"><span class="o">1</span>.0<span class="o">1</span>6<br>(25.8)</div>
<div class="td" style="left:553.5px;width:36.5px;top:575.5px">2.<span class="o">1</span>26<br>(55)</div>
<div class="td" style="left:590px;width:36px;top:575.5px">2.086<br>(52)</div>
<div class="td" style="left:626px;width:36px;top:575.5px">5.<span class="o">1</span>57<br>(<span class="o">1</span>3<span class="o">1</span>)</div>
<div class="td" style="left:662px;width:36.299999999999955px;top:575.5px">5.<span class="o">1</span><span class="o">1</span>8<br>(<span class="o">1</span>30)</div>
<div class="bore" style="left:50px;width:54px;top:609.25px">5.0(<span class="o">1</span>27.0)</div>
<div class="td" style="left:104px;width:36.5px;top:609.25px"><span class="o">1</span>2.250<br>(3<span class="o">1</span><span class="o">1</span>.<span class="o">1</span>5)</div>
<div class="td" style="left:140.5px;width:36.0px;top:609.25px">0.250<br>(6.35)</div>
<div class="npt" style="left:176.5px;width:36.5px;top:609.25px"><span class="sx">1/2NPT</span></div>
<div class="td" style="left:213px;width:36px;top:609.25px">2.992<br>(76)</div>
<div class="td" style="left:249px;width:36.30000000000001px;top:609.25px">2.9<span class="o">1</span>3<br>(74)</div>
<div class="td" style="left:285.3px;width:36.39999999999998px;top:609.25px"><span class="o">1</span>.26<br>(32)</div>
<div class="td" style="left:321.7px;width:36.30000000000001px;top:609.25px"><span class="o">1</span>.26<br>(32)</div>
<div class="td" style="left:358px;width:36.60000000000002px;top:609.25px">2.<span class="o">1</span>25<br>(54.0)</div>
<div class="td" style="left:394.6px;width:36.19999999999999px;top:609.25px">2.<span class="o">1</span><span class="o">1</span>8<br>(53.80)</div>
<div class="td" style="left:430.8px;width:36.69999999999999px;top:609.25px">0.72<br>(<span class="o">1</span>8.28)</div>
<div class="unf" style="left:467.5px;width:49.799999999999955px;top:609.25px"><span class="sx">11/4&#8211;12UNF</span></div>
<div class="td" style="left:517.3px;width:36.200000000000045px;top:609.25px"><span class="o">1</span>.265<br>(32.<span class="o">1</span>3)</div>
<div class="td" style="left:553.5px;width:36.5px;top:609.25px">2.756<br>(70)</div>
<div class="td" style="left:590px;width:36px;top:609.25px">2.756<br>(70)</div>
<div class="td" style="left:626px;width:36px;top:609.25px">6.500<br>(<span class="o">1</span>65.<span class="o">1</span>0)</div>
<div class="td" style="left:662px;width:36.299999999999955px;top:609.25px">6.500<br>(<span class="o">1</span>65.<span class="o">1</span>0)</div>

</body></html>
